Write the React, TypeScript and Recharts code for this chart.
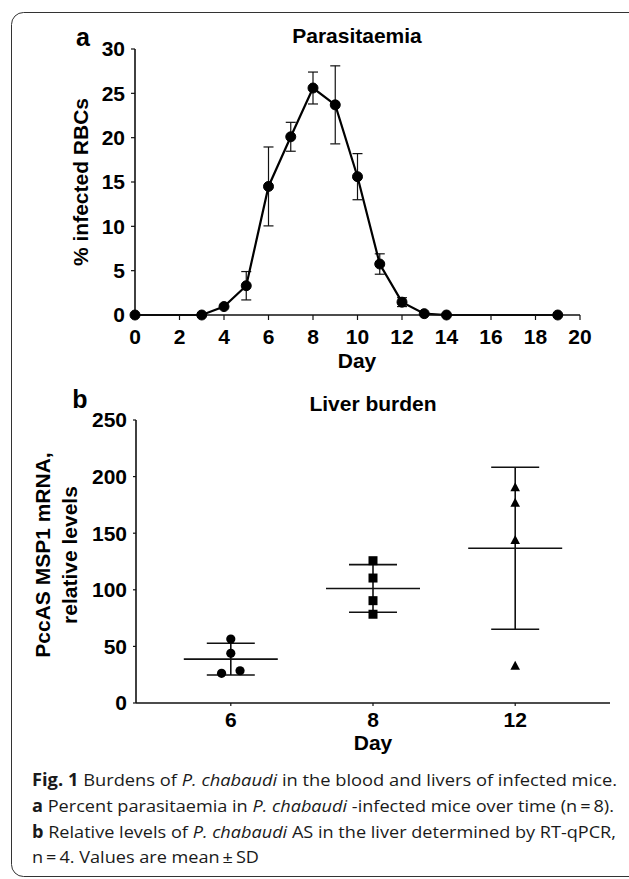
import React from "react";
import {
  LineChart,
  Line,
  XAxis,
  YAxis,
  ErrorBar,
  ScatterChart,
  Scatter,
} from "recharts";

// panel a: parasitaemia over time
const DAYS_A = [0, 3, 4, 5, 6, 7, 8, 9, 10, 11, 12, 13, 14, 19];
const PARASITAEMIA = [0, 0, 0.95, 3.3, 14.5, 20.1, 25.6, 23.7, 15.6, 5.75, 1.45, 0.15, 0, 0];
const PARASITAEMIA_SD = [null, null, null, 1.6, 4.45, 1.63, 1.8, 4.4, 2.6, 1.15, 0.5, null, null, null];
const X_TICKS_A = [0, 2, 4, 6, 8, 10, 12, 14, 16, 18, 20];
const Y_TICKS_A = [0, 5, 10, 15, 20, 25, 30];

// panel b: liver burden
const GROUP_DAYS = ["6", "8", "12"];
const LIVER_DAY6 = [56.5, 43.9, 26.2, 28.5];
const LIVER_DAY8 = [125.7, 110.4, 90.4, 78.4];
const LIVER_DAY12 = [190.5, 177, 144, 33];
const JITTER_DAY6 = [0, 0, -0.065, 0.065];
const LIVER_MEAN = [38.8, 101.2, 136.7];
const LIVER_SD = [14, 21, 71.5];
const Y_TICKS_B = [0, 50, 100, 150, 200, 250];

const FONT = "'Liberation Sans', Arial, sans-serif";
const INK = "#111";

const dataA = DAYS_A.map((d, i) => ({ day: d, pct: PARASITAEMIA[i], sd: PARASITAEMIA_SD[i] }));

const day6Pts = LIVER_DAY6.map((v, i) => ({ x: 0 + JITTER_DAY6[i], y: v }));
const day8Pts = LIVER_DAY8.map((v) => ({ x: 1, y: v }));
const day12Pts = LIVER_DAY12.map((v) => ({ x: 2, y: v }));
const meanPts = LIVER_MEAN.map((m, i) => ({ x: i, y: m, sd: LIVER_SD[i] }));

const tickStyle = { fontFamily: FONT, fontWeight: 700, fontSize: 21, fill: "#000" };

const CircleShape = (p: any) => <circle cx={p.cx} cy={p.cy} r={4.6} fill="#000" />;
const SquareShape = (p: any) => <rect x={p.cx - 4.5} y={p.cy - 4.5} width={9} height={9} fill="#000" />;
const TriangleShape = (p: any) => (
  <path d={`M${p.cx},${p.cy - 5} L${p.cx + 4.8},${p.cy + 4} L${p.cx - 4.8},${p.cy + 4} Z`} fill="#000" />
);
const MeanShape = (p: any) => (
  <line x1={p.cx - 47} x2={p.cx + 47} y1={p.cy} y2={p.cy} stroke={INK} strokeWidth={1.6} />
);

const ParasitaemiaChart = () => (
  <LineChart width={629} height={380} data={dataA} margin={{ top: 49, right: 49, bottom: 0, left: 0 }}>
    <XAxis
      dataKey="day"
      type="number"
      domain={[0, 20]}
      ticks={X_TICKS_A}
      height={65}
      tick={tickStyle}
      tickSize={5}
      tickMargin={9}
      axisLine={{ stroke: INK, strokeWidth: 1.6 }}
      tickLine={{ stroke: INK, strokeWidth: 1.2 }}
    />
    <YAxis
      type="number"
      domain={[0, 30]}
      ticks={Y_TICKS_A}
      width={135}
      tick={tickStyle}
      tickSize={4}
      tickMargin={6}
      axisLine={{ stroke: INK, strokeWidth: 1.6 }}
      tickLine={{ stroke: INK, strokeWidth: 1.2 }}
    />
    <Line
      dataKey="pct"
      type="linear"
      stroke="#000"
      strokeWidth={2.2}
      dot={{ r: 5, fill: "#000", stroke: "#000", strokeWidth: 1 }}
      activeDot={false}
      isAnimationActive={false}
    >
      <ErrorBar dataKey="sd" width={5} stroke={INK} strokeWidth={1.2} direction="y" />
    </Line>
  </LineChart>
);

const LiverChart = () => (
  <ScatterChart width={629} height={380} margin={{ top: 40, right: 19, bottom: 0, left: 0 }}>
    <XAxis
      dataKey="x"
      type="number"
      domain={[-2 / 3, 8 / 3]}
      ticks={[0, 1, 2]}
      tickFormatter={(i: number) => GROUP_DAYS[i]}
      allowDataOverflow
      height={57}
      tick={tickStyle}
      tickSize={3}
      tickMargin={6}
      axisLine={{ stroke: INK, strokeWidth: 1.6 }}
      tickLine={{ stroke: INK, strokeWidth: 1.2 }}
    />
    <YAxis
      dataKey="y"
      type="number"
      domain={[0, 250]}
      ticks={Y_TICKS_B}
      width={136}
      tick={tickStyle}
      tickSize={3}
      tickMargin={6}
      axisLine={{ stroke: INK, strokeWidth: 1.6 }}
      tickLine={{ stroke: INK, strokeWidth: 1.2 }}
    />
    <Scatter data={meanPts} shape={<MeanShape />} isAnimationActive={false}>
      <ErrorBar dataKey="sd" width={24} stroke={INK} strokeWidth={1.6} direction="y" />
    </Scatter>
    <Scatter data={day6Pts} shape={<CircleShape />} isAnimationActive={false} />
    <Scatter data={day8Pts} shape={<SquareShape />} isAnimationActive={false} />
    <Scatter data={day12Pts} shape={<TriangleShape />} isAnimationActive={false} />
  </ScatterChart>
);

const bold = { fontFamily: FONT, fontWeight: 700, fill: "#000" } as const;
const capFont = "'Open Sans', 'Noto Sans', sans-serif";

export default function App() {
  return (
    <div style={{ position: "absolute", left: 0, top: 0, width: 629, height: 879, background: "#fff", overflow: "hidden" }}>
      <div style={{ position: "absolute", left: 0, top: 0 }}>
        <ParasitaemiaChart />
      </div>
      <div style={{ position: "absolute", left: 0, top: 380 }}>
        <LiverChart />
      </div>
      <svg width={629} height={879} style={{ position: "absolute", left: 0, top: 0, pointerEvents: "none" }}>
        <rect x={11.5} y={12.5} width={660} height={864} rx={12} fill="none" stroke="#333" strokeWidth={1} />

        <text x={83} y={46} textAnchor="middle" fontSize={25} {...bold}>a</text>
        <text x={357} y={43} textAnchor="middle" fontSize={21} {...bold}>Parasitaemia</text>
        <text x={357} y={368} textAnchor="middle" fontSize={21} {...bold}>Day</text>
        <text x={88} y={182} textAnchor="middle" fontSize={21} transform="rotate(-90 88 182)" {...bold}>
          % infected RBCs
        </text>

        <text x={80} y={408} textAnchor="middle" fontSize={25} {...bold}>b</text>
        <text x={373} y={411} textAnchor="middle" fontSize={21} {...bold}>Liver burden</text>
        <text x={373} y={750} textAnchor="middle" fontSize={21} {...bold}>Day</text>
        <text x={50} y={555} textAnchor="middle" fontSize={21} transform="rotate(-90 50 555)" {...bold}>
          PccAS MSP1 mRNA,
        </text>
        <text x={77} y={555} textAnchor="middle" fontSize={21} transform="rotate(-90 77 555)" {...bold}>
          relative levels
        </text>

        <g fontFamily={capFont} fontSize={17} fill="#1a1a1a" style={{ whiteSpace: "pre" }}>
          <text x={32} y={786} textLength={585} lengthAdjust="spacingAndGlyphs">
            <tspan fontWeight={700}>Fig. 1</tspan>
            <tspan>{"  Burdens of "}</tspan>
            <tspan fontStyle="italic">P. chabaudi</tspan>
            <tspan>{" in the blood and livers of infected mice."}</tspan>
          </text>
          <text x={32} y={812} textLength={582} lengthAdjust="spacingAndGlyphs">
            <tspan fontWeight={700}>a</tspan>
            <tspan>{" Percent parasitaemia in "}</tspan>
            <tspan fontStyle="italic">P. chabaudi</tspan>
            <tspan>{" -infected mice over time (n\u2009=\u20098)."}</tspan>
          </text>
          <text x={32} y={838} textLength={584} lengthAdjust="spacingAndGlyphs">
            <tspan fontWeight={700}>b</tspan>
            <tspan>{" Relative levels of "}</tspan>
            <tspan fontStyle="italic">P. chabaudi</tspan>
            <tspan>{" AS in the liver determined by RT-qPCR,"}</tspan>
          </text>
          <text x={32} y={863} textLength={227} lengthAdjust="spacingAndGlyphs">
            {"n\u2009=\u20094. Values are mean\u2009\u00b1\u2009SD"}
          </text>
        </g>
      </svg>
    </div>
  );
}
